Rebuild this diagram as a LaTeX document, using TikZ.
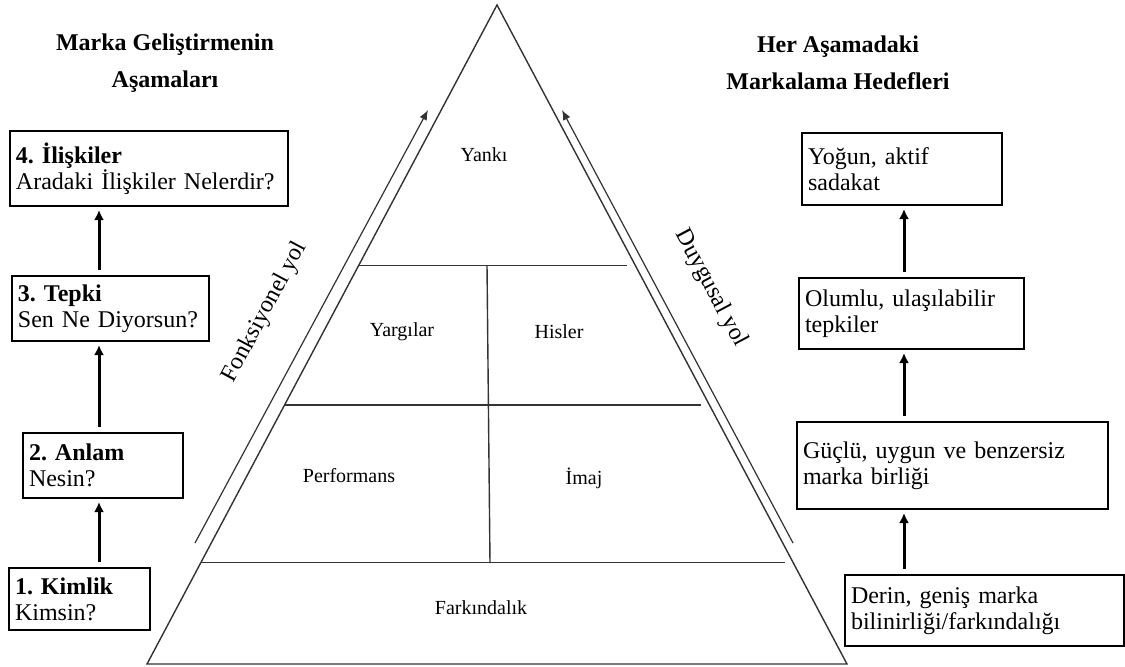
\documentclass[tikz,border=0pt]{standalone}
\usepackage{fontspec}
\setmainfont{Liberation Serif}
\usetikzlibrary{arrows.meta,calc}
\frenchspacing
\begin{document}
\begin{tikzpicture}[x=0.5pt,y=-0.5pt,
	stage/.style={draw,line width=1pt,rectangle,anchor=north west,align=left,inner sep=3pt,font=\fontsize{12}{13}\selectfont},
	head/.style={align=center,font=\fontsize{12}{18.5}\selectfont\bfseries},
	level/.style={font=\fontsize{10}{12}\selectfont},
	road/.style={font=\fontsize{12}{14}\selectfont},
	up/.style={-{Latex[length=5pt,width=5pt]},line width=1.5pt,shorten <=2.5pt,shorten >=1.5pt},
	side/.style={line width=0.7pt,black!80},
	route/.style={-{Latex[length=5pt,width=4pt]},line width=0.6pt,black!80}]
	\useasboundingbox (0,0) rectangle (1125,666);
	
	% basliklar
	\node[head] (lhead) at (165,63) {Marka Geliştirmenin\\Aşamaları};
	\node[head] (rhead) at (838,63) {Her Aşamadaki\\Markalama Hedefleri};
	
	% piramit
	\coordinate (apex) at (497,5);
	\coordinate (bl) at (147,664);
	\coordinate (br) at (847,664);
	\draw[side] (apex) -- (bl) -- (br) -- cycle;
	\foreach \t in {0.395,0.607,0.846}{
		\draw[side,shorten >=4pt] ($(apex)!\t!(bl)$) -- ($(apex)!\t!(br)$);
	}
	\draw[side] (487,265) -- (490,563);
	
	\node[level] (yanki) at (484,155) {Yankı};
	\node[level] (yargi) at (402,332) {Yargılar};
	\node[level] (his) at (559,332) {Hisler};
	\node[level] (perf) at (349,476) {Performans};
	\node[level] (imaj) at (584,478) {İmaj};
	\node[level] (fark) at (481,608) {Farkındalık};
	
	\draw[route] (195,543) -- (428,110);
	\draw[route] (793,543) -- (562,110);
	\node[road,rotate=62] (fyol) at (265,312) {Fonksiyonel yol};
	\node[road,rotate=-62] (dyol) at (711,288) {Duygusal yol};
	
	% sol kutular
	\node[stage,text width=133pt,minimum height=37.5pt] (iliski) at (9,130) {\textbf{4. İlişkiler}\\Aradaki İlişkiler Nelerdir?};
	\node[stage,text width=92.5pt,minimum height=32.5pt] (tepki) at (11,275) {\textbf{3. Tepki}\\Sen Ne Diyorsun?};
	\node[stage,text width=74pt,minimum height=32.5pt] (anlam) at (22,432) {\textbf{2. Anlam}\\Nesin?};
	\node[stage,text width=64.5pt,minimum height=31pt] (kimlik) at (8,567) {\textbf{1. Kimlik}\\Kimsin?};
	
	% sag kutular
	\node[stage,text width=94pt,minimum height=36pt] (sadakat) at (801,132) {Yoğun, aktif\\sadakat};
	\node[stage,text width=106.5pt,minimum height=35.5pt] (tepkiler) at (798,277) {Olumlu, ulaşılabilir\\tepkiler};
	\node[stage,text width=149.5pt,minimum height=43.5pt] (birlik) at (796,421) {Güçlü, uygun ve benzersiz\\marka birliği};
	\node[stage,text width=133.5pt,minimum height=35.5pt] (bilinirlik) at (844,574) {Derin, geniş marka\\bilinirliği/farkındalığı};
	
	% oklar
	\coordinate (lx) at (99,0);
	\coordinate (rx) at (904,0);
	\draw[up] (kimlik.north -| lx) -- (anlam.south -| lx);
	\draw[up] (anlam.north -| lx) -- (tepki.south -| lx);
	\draw[up] (tepki.north -| lx) -- (iliski.south -| lx);
	\draw[up] (bilinirlik.north -| rx) -- (birlik.south -| rx);
	\draw[up] (birlik.north -| rx) -- (tepkiler.south -| rx);
	\draw[up] (tepkiler.north -| rx) -- (sadakat.south -| rx);
\end{tikzpicture}
\end{document}
